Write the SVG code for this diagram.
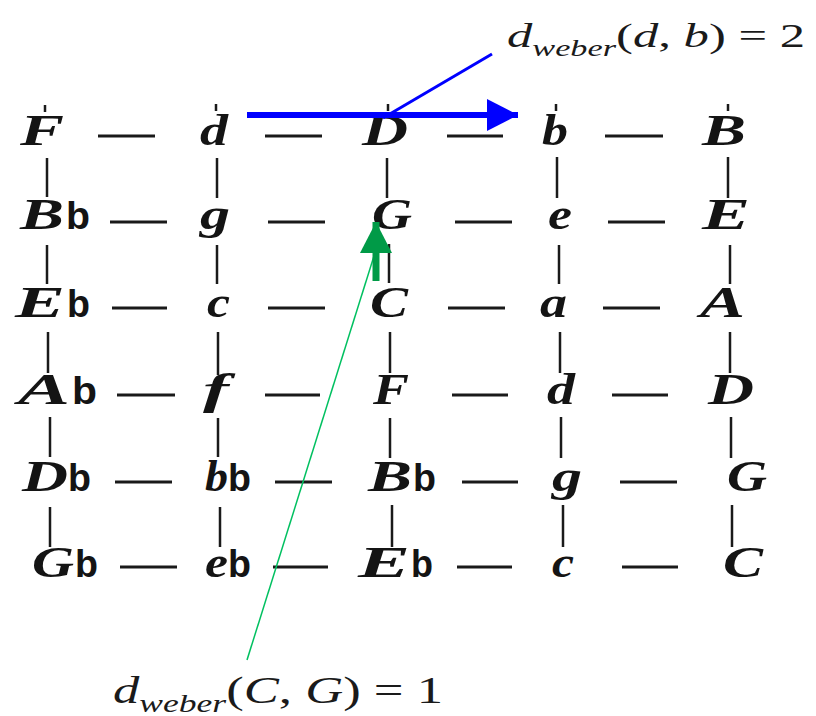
<svg xmlns="http://www.w3.org/2000/svg" width="816" height="716" viewBox="0 0 816 716">
<defs>
<style>
.n{font-family:"Liberation Serif",serif;font-style:italic;font-weight:bold;font-size:45px;fill:#141414}
.fl{font-family:"Liberation Sans",sans-serif;font-weight:bold;font-size:39px;fill:#141414}
.h{stroke:#1a1a1a;stroke-width:3;fill:none}
.v{stroke:#1a1a1a;stroke-width:2.5;fill:none}
.m{font-family:"Liberation Serif",serif;fill:#1a1a1a}
.i{font-style:italic}
</style>
<marker id="ab" markerUnits="userSpaceOnUse" markerWidth="32" markerHeight="32" refX="31" refY="16" orient="auto"><path d="M0,0 L31,16 L0,32 Z" fill="#0000ff"/></marker>
<marker id="ag" markerUnits="userSpaceOnUse" markerWidth="34" markerHeight="32" refX="31" refY="16" orient="auto"><path d="M0,0 L31,16 L0,32 Z" fill="#009a47"/></marker>
</defs>
<rect width="816" height="716" fill="#ffffff"/>

<g id="connectors">
<!-- row 1 -->
<line class="h" x1="98" y1="136" x2="155" y2="136"/>
<line class="h" x1="265" y1="136" x2="322" y2="136"/>
<line class="h" x1="447" y1="136" x2="503" y2="136"/>
<line class="h" x1="605" y1="136" x2="663" y2="136"/>
<!-- row 2 -->
<line class="h" x1="110" y1="222" x2="167" y2="222"/>
<line class="h" x1="268" y1="222" x2="325" y2="222"/>
<line class="h" x1="455" y1="222" x2="512" y2="222"/>
<line class="h" x1="608" y1="222" x2="665" y2="222"/>
<!-- row 3 -->
<line class="h" x1="112" y1="308" x2="167" y2="308"/>
<line class="h" x1="268" y1="308" x2="325" y2="308"/>
<line class="h" x1="448" y1="308" x2="505" y2="308"/>
<line class="h" x1="603" y1="308" x2="660" y2="308"/>
<!-- row 4 -->
<line class="h" x1="117" y1="395" x2="175" y2="395"/>
<line class="h" x1="265" y1="395" x2="320" y2="395"/>
<line class="h" x1="452" y1="395" x2="508" y2="395"/>
<line class="h" x1="612" y1="395" x2="668" y2="395"/>
<!-- row 5 -->
<line class="h" x1="115" y1="482" x2="172" y2="482"/>
<line class="h" x1="275" y1="482" x2="332" y2="482"/>
<line class="h" x1="462" y1="482" x2="518" y2="482"/>
<line class="h" x1="620" y1="482" x2="677" y2="482"/>
<!-- row 6 -->
<line class="h" x1="120" y1="567" x2="177" y2="567"/>
<line class="h" x1="273" y1="567" x2="328" y2="567"/>
<line class="h" x1="457" y1="567" x2="512" y2="567"/>
<line class="h" x1="622" y1="567" x2="678" y2="567"/>
<!-- verticals r1-r2 -->
<line class="v" x1="47" y1="158" x2="47" y2="197"/>
<line class="v" x1="217" y1="158" x2="217" y2="198"/>
<line class="v" x1="387" y1="158" x2="387" y2="198"/>
<line class="v" x1="557" y1="157" x2="557" y2="198"/>
<line class="v" x1="728" y1="157" x2="728" y2="198"/>
<!-- r2-r3 -->
<line class="v" x1="47" y1="245" x2="47" y2="284"/>
<line class="v" x1="217" y1="245" x2="217" y2="284"/>
<line class="v" x1="389" y1="244" x2="389" y2="283"/>
<line class="v" x1="559" y1="245" x2="559" y2="284"/>
<line class="v" x1="730" y1="245" x2="730" y2="284"/>
<!-- r3-r4 -->
<line class="v" x1="48" y1="332" x2="48" y2="373"/>
<line class="v" x1="218" y1="332" x2="218" y2="375"/>
<line class="v" x1="390" y1="332" x2="390" y2="373"/>
<line class="v" x1="560" y1="332" x2="560" y2="373"/>
<line class="v" x1="730" y1="332" x2="730" y2="373"/>
<!-- r4-r5 -->
<line class="v" x1="50" y1="417" x2="50" y2="457"/>
<line class="v" x1="218" y1="418" x2="218" y2="457"/>
<line class="v" x1="390" y1="418" x2="390" y2="458"/>
<line class="v" x1="561" y1="417" x2="561" y2="458"/>
<line class="v" x1="731" y1="417" x2="731" y2="458"/>
<!-- r5-r6 -->
<line class="v" x1="50" y1="507" x2="50" y2="547"/>
<line class="v" x1="220" y1="507" x2="220" y2="547"/>
<line class="v" x1="392" y1="505" x2="392" y2="547"/>
<line class="v" x1="563" y1="505" x2="563" y2="547"/>
<line class="v" x1="732" y1="505" x2="732" y2="547"/>
<!-- stub ticks above row 1 -->
<line class="v" x1="45" y1="105" x2="45" y2="112"/>
<line class="v" x1="216" y1="104" x2="216" y2="111"/>
<line class="v" x1="388" y1="104" x2="388" y2="111"/>
<line class="v" x1="556" y1="104" x2="556" y2="111"/>
<line class="v" x1="728" y1="104" x2="728" y2="111"/>
</g>

<!-- row 1 -->
<g id="n-F1"><text class="n" x="20" y="145" textLength="44" lengthAdjust="spacingAndGlyphs">F</text></g>
<g id="n-d1"><text class="n" x="200" y="145" textLength="28" lengthAdjust="spacingAndGlyphs">d</text></g>
<g id="n-D1"><text class="n" x="362" y="145" textLength="46" lengthAdjust="spacingAndGlyphs">D</text></g>
<g id="n-b1"><text class="n" x="542" y="145" textLength="26" lengthAdjust="spacingAndGlyphs">b</text></g>
<g id="n-B1"><text class="n" x="702" y="145" textLength="44" lengthAdjust="spacingAndGlyphs">B</text></g>
<!-- row 2 -->
<g id="n-Bb2"><text class="n" x="20" y="229" textLength="44" lengthAdjust="spacingAndGlyphs">B</text><text class="fl" x="66" y="229" textLength="24" lengthAdjust="spacingAndGlyphs">b</text></g>
<g id="n-g2"><text class="n" x="200" y="229" textLength="30" lengthAdjust="spacingAndGlyphs">g</text></g>
<g id="n-G2"><text class="n" x="372" y="229" textLength="40" lengthAdjust="spacingAndGlyphs">G</text></g>
<g id="n-e2"><text class="n" x="548" y="229" textLength="24" lengthAdjust="spacingAndGlyphs">e</text></g>
<g id="n-E2"><text class="n" x="702" y="229" textLength="48" lengthAdjust="spacingAndGlyphs">E</text></g>
<!-- row 3 -->
<g id="n-Eb3"><text class="n" x="15" y="317" textLength="50" lengthAdjust="spacingAndGlyphs">E</text><text class="fl" x="67" y="317" textLength="23" lengthAdjust="spacingAndGlyphs">b</text></g>
<g id="n-c3"><text class="n" x="207" y="317" textLength="23" lengthAdjust="spacingAndGlyphs">c</text></g>
<g id="n-C3"><text class="n" x="370" y="317" textLength="38" lengthAdjust="spacingAndGlyphs">C</text></g>
<g id="n-a3"><text class="n" x="540" y="317" textLength="27" lengthAdjust="spacingAndGlyphs">a</text></g>
<g id="n-A3"><text class="n" x="700" y="317" textLength="45" lengthAdjust="spacingAndGlyphs">A</text></g>
<!-- row 4 -->
<g id="n-Ab4"><text class="n" x="18" y="404" textLength="52" lengthAdjust="spacingAndGlyphs">A</text><text class="fl" x="72" y="404" textLength="25" lengthAdjust="spacingAndGlyphs">b</text></g>
<g id="n-f4"><text class="n" x="203" y="404" textLength="26" lengthAdjust="spacingAndGlyphs">f</text></g>
<g id="n-F4"><text class="n" x="373" y="404" textLength="36" lengthAdjust="spacingAndGlyphs">F</text></g>
<g id="n-d4"><text class="n" x="547" y="404" textLength="28" lengthAdjust="spacingAndGlyphs">d</text></g>
<g id="n-D4"><text class="n" x="708" y="404" textLength="46" lengthAdjust="spacingAndGlyphs">D</text></g>
<!-- row 5 -->
<g id="n-Db5"><text class="n" x="22" y="491" textLength="46" lengthAdjust="spacingAndGlyphs">D</text><text class="fl" x="68" y="491" textLength="23" lengthAdjust="spacingAndGlyphs">b</text></g>
<g id="n-bb5"><text class="n" x="205" y="491" textLength="23" lengthAdjust="spacingAndGlyphs">b</text><text class="fl" x="228" y="491" textLength="23" lengthAdjust="spacingAndGlyphs">b</text></g>
<g id="n-Bb5"><text class="n" x="368" y="491" textLength="44" lengthAdjust="spacingAndGlyphs">B</text><text class="fl" x="413" y="491" textLength="23" lengthAdjust="spacingAndGlyphs">b</text></g>
<g id="n-g5"><text class="n" x="552" y="491" textLength="30" lengthAdjust="spacingAndGlyphs">g</text></g>
<g id="n-G5"><text class="n" x="727" y="491" textLength="40" lengthAdjust="spacingAndGlyphs">G</text></g>
<!-- row 6 -->
<g id="n-Gb6"><text class="n" x="32" y="577" textLength="42" lengthAdjust="spacingAndGlyphs">G</text><text class="fl" x="75" y="577" textLength="23" lengthAdjust="spacingAndGlyphs">b</text></g>
<g id="n-eb6"><text class="n" x="205" y="577" textLength="23" lengthAdjust="spacingAndGlyphs">e</text><text class="fl" x="228" y="577" textLength="23" lengthAdjust="spacingAndGlyphs">b</text></g>
<g id="n-Eb6"><text class="n" x="358" y="577" textLength="52" lengthAdjust="spacingAndGlyphs">E</text><text class="fl" x="411" y="577" textLength="22" lengthAdjust="spacingAndGlyphs">b</text></g>
<g id="n-c6"><text class="n" x="552" y="577" textLength="22" lengthAdjust="spacingAndGlyphs">c</text></g>
<g id="n-C6"><text class="n" x="723" y="577" textLength="40" lengthAdjust="spacingAndGlyphs">C</text></g>

<g id="annotations">
<line x1="247" y1="115" x2="518" y2="115" stroke="#0000ff" stroke-width="6" marker-end="url(#ab)"/>
<line x1="383" y1="118" x2="492" y2="54" stroke="#0000ff" stroke-width="3"/>
<line x1="374" y1="256" x2="247" y2="660" stroke="#00c060" stroke-width="1.5"/>
<line x1="376" y1="281" x2="376" y2="222" stroke="#009a47" stroke-width="7" marker-end="url(#ag)"/>
</g>

<g id="label-db">
<text class="m" x="507" y="47" font-size="34" textLength="298" lengthAdjust="spacingAndGlyphs"><tspan class="i">d</tspan><tspan class="i" font-size="23" dy="9">weber</tspan><tspan dy="-9">(</tspan><tspan class="i">d</tspan>, <tspan class="i">b</tspan>) = 2</text>
</g>
<g id="label-cg">
<text class="m" x="113" y="703" font-size="37" textLength="330" lengthAdjust="spacingAndGlyphs"><tspan class="i">d</tspan><tspan class="i" font-size="25" dy="9">weber</tspan><tspan dy="-9">(</tspan><tspan class="i">C</tspan>, <tspan class="i">G</tspan>) = 1</text>
</g>
</svg>
